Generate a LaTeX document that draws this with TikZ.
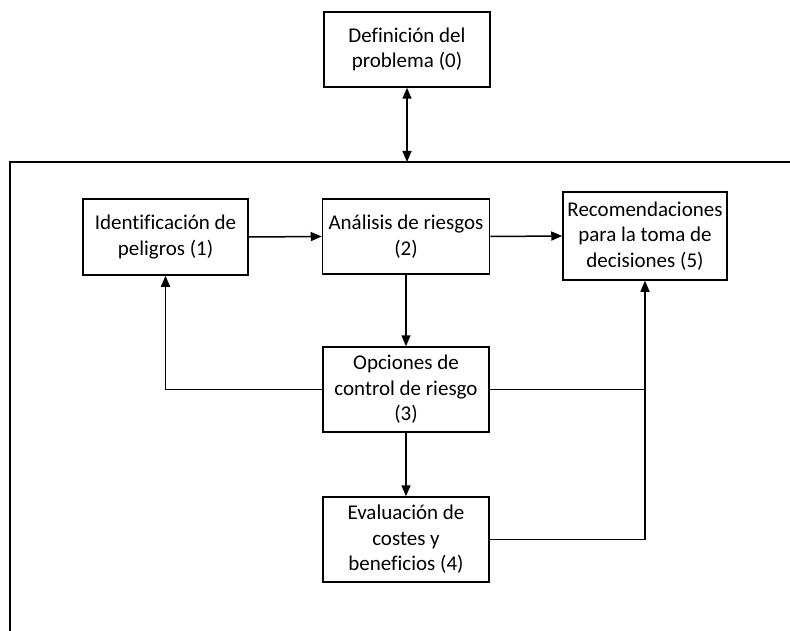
\documentclass[tikz,border=0pt]{standalone}
\usepackage{fontspec}
\setmainfont{Carlito}[Ligatures=NoCommon]
\usetikzlibrary{arrows.meta}
\begin{document}
\begin{tikzpicture}[x=1pt,y=-1pt,
  box/.style={draw,line width=1.5pt,align=center,inner sep=0pt,
    font=\fontsize{21}{25.5}\selectfont},
  conn/.style={line width=1.5pt},
  arr/.style={conn,-{Triangle[length=11pt,width=9pt]}},
  darr/.style={conn,{Triangle[length=11pt,width=9pt]}-{Triangle[length=11pt,width=9pt]}}]
\useasboundingbox (0,0) rectangle (790,631);
% frame
\draw[conn] (10,631) -- (10,162) -- (790,162);
\coordinate (ftop) at (407,162);
% nodes
\node[box,minimum width=166pt,minimum height=75pt] (n0) at (407,49.5) {Definición del\\problema (0)};
\node[box,minimum width=165pt,minimum height=76pt] (n1) at (165.5,237) {Identificación de\\peligros (1)};
\node[box,minimum width=167pt,minimum height=75pt] (n2) at (406,236.5) {Análisis de riesgos\\(2)};
\node[box,minimum width=164pt,minimum height=88pt] (n5) at (645,236) {Recomendaciones\\para la toma de\\decisiones (5)};
\node[box,minimum width=166pt,minimum height=85pt] (n3) at (406,389.5) {Opciones de\\control de riesgo\\(3)};
\node[box,minimum width=166pt,minimum height=85pt] (n4) at (406,539.5) {Evaluación de\\costes y\\beneficios (4)};
\coordinate (j1) at (646,389.5);
% connectors
\draw[darr] (n0.south) -- (ftop);
\draw[arr] (n1.east) -- (n2.west);
\draw[arr] (n2.east) -- (n5.west);
\draw[arr] (n2.south) -- (n3.north);
\draw[arr] (n3.south) -- (n4.north);
\draw[arr] (n3.west) -| (n1.south);
\draw[conn] (n3.east) -- (j1);
\draw[arr] (n4.east) -| (n5.south);
\end{tikzpicture}
\end{document}
